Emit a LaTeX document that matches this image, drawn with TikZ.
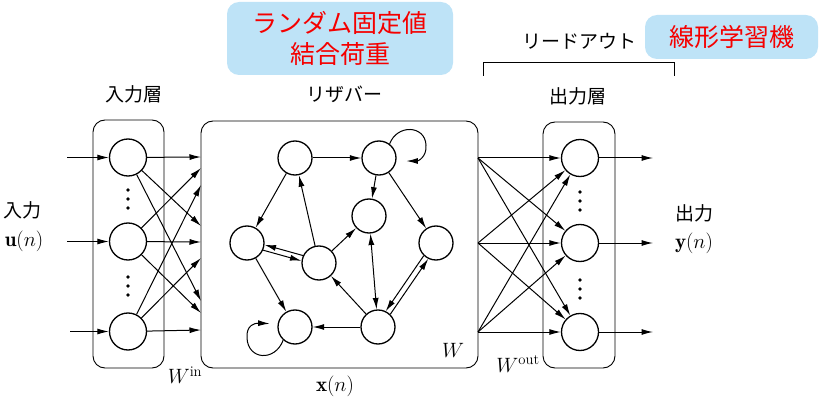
\documentclass[tikz,border=0pt]{standalone}
\usepackage{fontspec}
\newfontfamily\jp{Noto Sans CJK JP}
\usetikzlibrary{arrows.meta,calc}
\definecolor{boxblue}{RGB}{190,227,247}
\definecolor{redtxt}{RGB}{245,0,0}
\newcommand\lblfont{\jp\fontsize{19}{22}\selectfont}
\newcommand\mathlbl{\fontsize{21}{25}\selectfont}
\begin{document}
\begin{tikzpicture}[x=1pt,y=-1pt,
  neuron/.style={circle,draw,line width=1.3pt,minimum size=37pt,inner sep=0pt},
  rnode/.style={circle,draw,line width=1.3pt,minimum size=34pt,inner sep=0pt},
  arr/.style={line width=1pt,-{Latex[length=11.5pt,width=6pt]}},
  darr/.style={line width=1pt,{Latex[length=11.5pt,width=6pt]}-{Latex[length=11.5pt,width=6pt]}},
  layerbox/.style={draw,line width=0.9pt,rounded corners=12pt},
  hilite/.style={fill=boxblue,rounded corners=12pt,inner sep=0pt,text=redtxt,align=center,font=\jp\fontsize{25}{31}\selectfont},
  dotmark/.style={fill=black},
  lbl/.style={font=\lblfont,inner sep=0pt},
  mlbl/.style={font=\mathlbl,inner sep=0pt}
]
\useasboundingbox (0,0) rectangle (820,401);

% boxes
\draw[layerbox] (93,120) rectangle (164,368);
\draw[layerbox] (201,121) rectangle (478,368);
\draw[layerbox] (543,122) rectangle (615,368);

% highlight boxes
\node[hilite,minimum width=226pt,minimum height=73pt] (rand) at (340,38.5) {ランダム固定値\\結合荷重};
\node[hilite,minimum width=173pt,minimum height=44pt] (lin) at (731.5,37) {線形学習機};

% bracket
\draw[line width=0.8pt] (483,76) -- (483,62) -- (674,62) -- (674,76);

% labels
\node[lbl] (linlabel) at (134,94) {入力層};
\node[lbl] (reslabel) at (344,94) {リザバー};
\node[lbl] (outlabel) at (578,96) {出力層};
\node[lbl] (rolabel) at (579,41) {リードアウト};
\node[lbl] (inlabel) at (22,210) {入力};
\node[mlbl] (ulabel) at (24,241) {$\mathbf{u}(n)$};
\node[lbl] (outl2) at (694,213) {出力};
\node[mlbl] (ylabel) at (694,243) {$\mathbf{y}(n)$};
\node[mlbl] (win) at (185,375) {$W^{\mathrm{in}}$};
\node[mlbl] (xlabel) at (335,386) {$\mathbf{x}(n)$};
\node[mlbl] (wout) at (518,364) {$W^{\mathrm{out}}$};
\node[mlbl] (wres) at (453,350) {$W$};

% input layer
\node[neuron] (i1) at (128,157.5) {};
\node[neuron] (i2) at (128,241.5) {};
\node[neuron] (i3) at (128,331.5) {};
% output layer
\node[neuron] (o1) at (580,158) {};
\node[neuron] (o2) at (580,243) {};
\node[neuron] (o3) at (580,332) {};

% dots
\foreach \x/\y in {128/190,128/199,128/208,128/277,128/286,128/295,580/192,580/201,580/210,580/280,580/289,580/298}
  \fill[dotmark] (\x,\y) circle (1.8pt);

% external input/output
\coordinate (e1) at (67,157.5);
\coordinate (e2) at (67,241.5);
\coordinate (e3) at (70,331.5);
\draw[arr] (e1) -- (i1);
\draw[arr] (e2) -- (i2);
\draw[arr] (e3) -- (i3);
\coordinate (f1) at (653,158);
\coordinate (f2) at (653,243);
\coordinate (f3) at (653,332);
\draw[arr] (o1) -- (f1);
\draw[arr] (o2) -- (f2);
\draw[arr] (o3) -- (f3);

% input -> reservoir edge
\coordinate (L1) at (201,157);
\coordinate (L2) at (201,168);
\coordinate (L3) at (201,185);
\coordinate (L4) at (201,226);
\coordinate (L5) at (201,242);
\coordinate (L6) at (201,258);
\coordinate (L7) at (201,301);
\coordinate (L8) at (201,313);
\coordinate (L9) at (201,330);
\foreach \s/\a/\b/\c in {i1/L1/L4/L7,i2/L2/L5/L8,i3/L3/L6/L9}{
  \draw[arr] (\s) -- (\a);
  \draw[arr] (\s) -- (\b);
  \draw[arr] (\s) -- (\c);
}

% reservoir -> output
\coordinate (R1) at (478,158);
\coordinate (R2) at (478,243);
\coordinate (R3) at (478,332);
\foreach \s in {R1,R2,R3}
  \foreach \t in {o1,o2,o3}
    \draw[arr] (\s) -- (\t);

% reservoir nodes
\node[rnode] (A) at (295,158) {};
\node[rnode] (B) at (379,158) {};
\node[rnode] (C) at (369,216) {};
\node[rnode] (D) at (247,243) {};
\node[rnode] (E) at (319,263) {};
\node[rnode] (F) at (436,243) {};
\node[rnode] (G) at (295,327) {};
\node[rnode] (H) at (378,327) {};

\draw[arr] (A) -- (B);
\draw[arr] (B) -- (C);
\draw[arr] (B) -- (F);
\draw[arr] (A) -- (D);
\draw[arr] (E) -- (A);
\draw[arr] (E.155.5) -- (D.-6.5);
\draw[arr] (D.-24.5) -- (E.173.5);
\draw[arr] (E) -- (C);
\draw[darr] (C) -- (H);
\draw[arr] (D) -- (G);
\draw[arr] (H) -- (E);
\draw[arr] (H) -- (G);
\draw[arr] (F.226.4) -- (H.64.4);
\draw[arr] (H.46.4) -- (F.244.4);
% self loops
\draw[arr,shorten >=10pt] (B.53) .. controls (397,124) and (425,125) .. (426,145)
  .. controls (427,157) and (418,161) .. (B.-10);
\draw[arr,shorten >=8pt] (G.228) .. controls (275,362) and (248,360) .. (247,338)
  .. controls (246,325) and (255,323) .. (G.170);
\end{tikzpicture}
\end{document}
